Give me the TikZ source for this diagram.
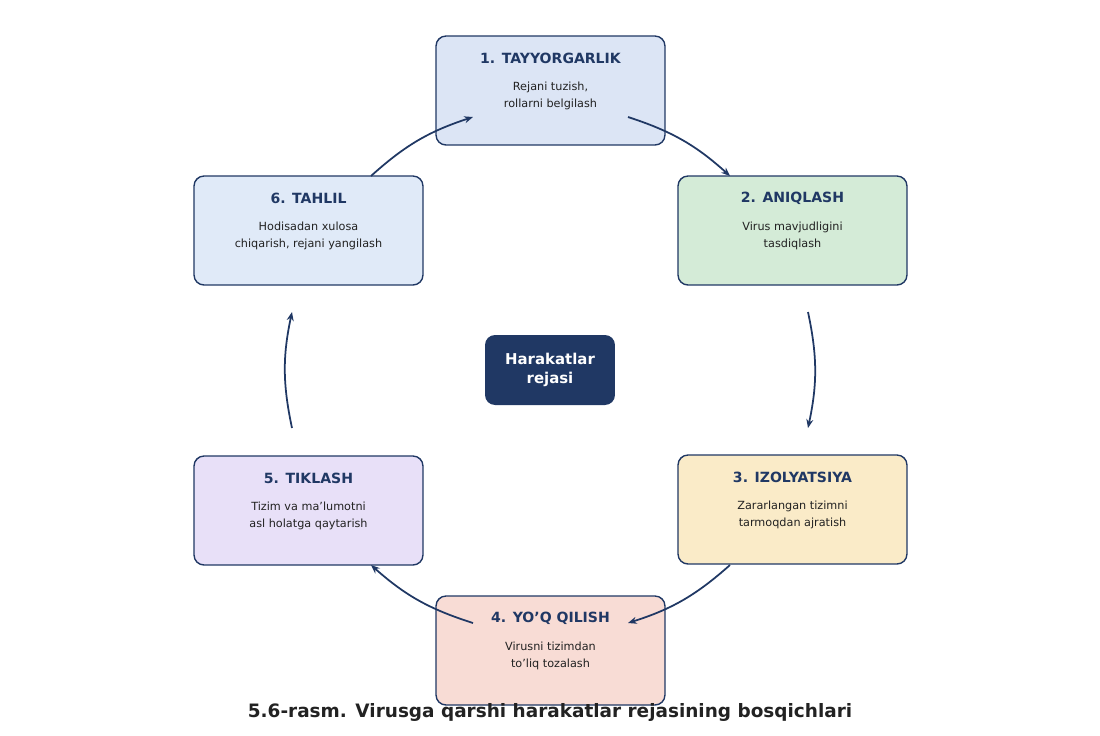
\documentclass[tikz,border=0pt]{standalone}
\usepackage{fontspec}
\setmainfont{DejaVu Sans}
\usetikzlibrary{arrows.meta}
\definecolor{navy}{HTML}{203864}
\definecolor{inkc}{HTML}{222222}
\definecolor{fa}{HTML}{DCE5F5}
\definecolor{fb}{HTML}{D4EBD7}
\definecolor{fc}{HTML}{FAEBC8}
\definecolor{fd}{HTML}{F8DCD5}
\definecolor{fe}{HTML}{E8E0F8}
\definecolor{ff}{HTML}{E0EAF8}
\tikzset{
  stage/.style={draw=navy,line width=0.8pt,rounded corners=0.2cm,minimum width=4.58cm,minimum height=2.18cm},
  hd/.style={text=navy,font=\bfseries\fontsize{8}{10}\selectfont},
  bd/.style={text=inkc,align=center,font=\fontsize{6.4}{10}\selectfont},
  flow/.style={draw=navy,line width=1pt,-{Stealth[length=5pt,width=4pt]}}
}
\begin{document}
\begin{tikzpicture}[x=0.02cm,y=-0.02cm]
\useasboundingbox (0,0) rectangle (1100,735);

\node[stage,fill=fa] (s1) at (550.5,90.5) {};
\node[stage,fill=fb] (s2) at (792.5,230.5) {};
\node[stage,fill=fc] (s3) at (792.5,509.5) {};
\node[stage,fill=fd] (s4) at (550.5,650.5) {};
\node[stage,fill=fe] (s5) at (308.5,510.5) {};
\node[stage,fill=ff] (s6) at (308.5,230.5) {};

\node[hd] (t1) at (550.5,58) {1. TAYYORGARLIK};
\node[bd] (b1) at (550.5,96) {Rejani tuzish,\\rollarni belgilash};
\node[hd] (t2) at (792.5,198) {2. ANIQLASH};
\node[bd] (b2) at (792.5,236) {Virus mavjudligini\\tasdiqlash};
\node[hd] (t3) at (792.5,477) {3. IZOLYATSIYA};
\node[bd] (b3) at (792.5,515) {Zararlangan tizimni\\tarmoqdan ajratish};
\node[hd] (t4) at (550.5,618) {4. YO'Q QILISH};
\node[bd] (b4) at (550.5,656) {Virusni tizimdan\\to'liq tozalash};
\node[hd] (t5) at (308.5,478) {5. TIKLASH};
\node[bd] (b5) at (308.5,516) {Tizim va ma'lumotni\\asl holatga qaytarish};
\node[hd] (t6) at (308.5,198) {6. TAHLIL};
\node[bd] (b6) at (308.5,236) {Hodisadan xulosa\\chiqarish, rejani yangilash};

\node[fill=navy,rounded corners=0.2cm,minimum width=2.6cm,minimum height=1.4cm,text=white,align=center,
  font=\bfseries\fontsize{8.5}{11}\selectfont] (c) at (550,370) {Harakatlar\\rejasi};

\coordinate (a1) at (628,117); \coordinate (a2) at (730,176);
\coordinate (a3) at (808,312); \coordinate (a4) at (808,428);
\coordinate (a5) at (730,565); \coordinate (a6) at (628,623);
\coordinate (a7) at (473,623); \coordinate (a8) at (371,565);
\coordinate (a9) at (292,428); \coordinate (a10) at (292,312);
\coordinate (a11) at (371,176); \coordinate (a12) at (473,117);

\draw[flow] (a1) to[bend left=12] (a2);
\draw[flow] (a3) to[bend left=12] (a4);
\draw[flow] (a5) to[bend left=12] (a6);
\draw[flow] (a7) to[bend left=12] (a8);
\draw[flow] (a9) to[bend left=12] (a10);
\draw[flow] (a11) to[bend left=12] (a12);

\node[text=inkc,font=\bfseries\fontsize{10.5}{12}\selectfont] (cap) at (550,712) {5.6-rasm. Virusga qarshi harakatlar rejasining bosqichlari};
\end{tikzpicture}
\end{document}
